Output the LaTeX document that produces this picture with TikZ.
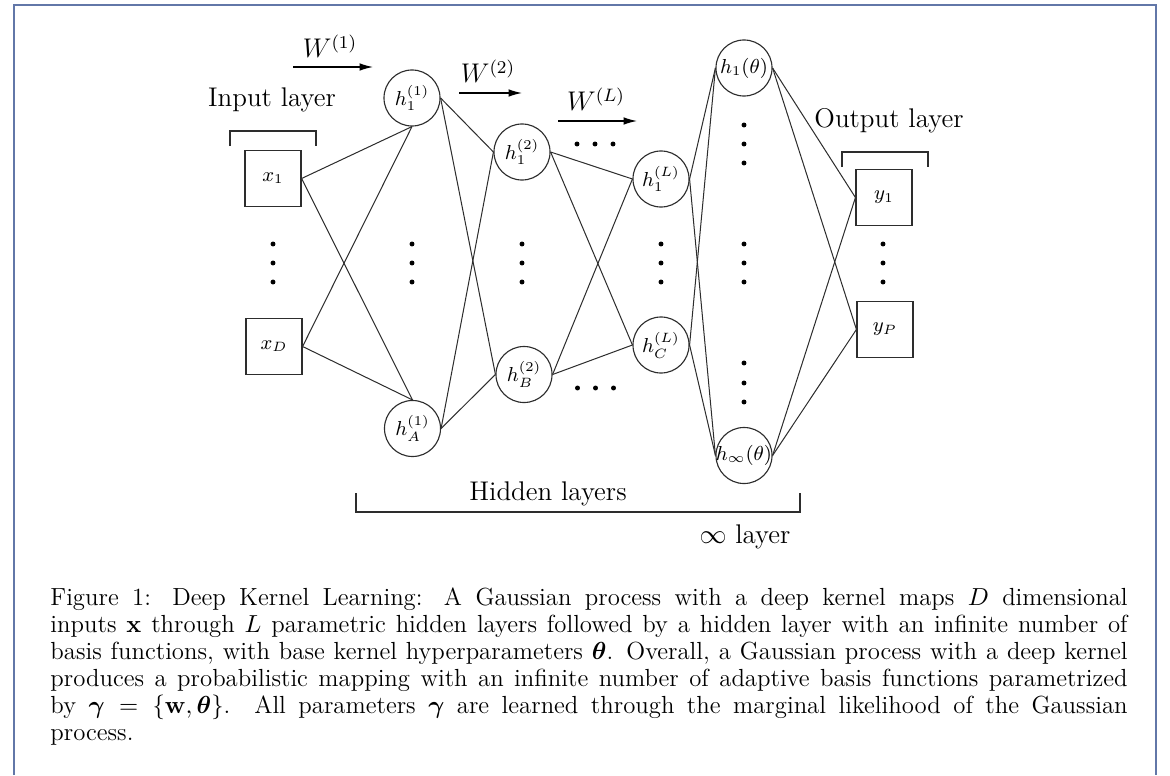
\documentclass[tikz,border=0pt]{standalone}
\usepackage{amsmath,amssymb,bm}
\usetikzlibrary{arrows.meta}
\definecolor{framecol}{RGB}{98,119,168}
\definecolor{ink}{RGB}{45,45,45}
\tikzset{
  inbox/.style={draw=ink, line width=0.5pt, minimum size=24.9pt, inner sep=0pt,
    font=\fontsize{9}{11}\selectfont},
  neuron/.style={circle, draw=ink, line width=0.5pt, minimum size=24.9pt, inner sep=0pt,
    font=\fontsize{9}{11}\selectfont},
  wire/.style={draw=ink, line width=0.45pt},
  tagtext/.style={font=\fontsize{12}{14}\selectfont, inner sep=0pt, anchor=base},
  weightarrow/.style={-{Latex[length=6pt,width=3.4pt]}, line width=0.55pt},
  bracket/.style={draw=ink, line width=0.5pt},
}
\newcommand{\ctext}[1]{\makebox[0pt][c]{$#1$}}
\begin{document}
\begin{tikzpicture}[x=0.4444pt, y=-0.4444pt]
\useasboundingbox (0,0) rectangle (1170,775);

% page frame
\draw[framecol, line width=0.9pt] (14,775) -- (14,5.3) -- (1156.3,5.3) -- (1156.3,775);

% input layer
\node[inbox] (x1) at (273,178.5) {$x_1$};
\node[inbox] (xD) at (274,346.5) {$x_D$};

% first hidden layer
\node[neuron] (h11) at (412,98) {\ctext{h_1^{(1)}}};
\node[neuron] (h1A) at (412.5,428.5) {\ctext{h_A^{(1)}}};

% second hidden layer
\node[neuron] (h21) at (522,152) {\ctext{h_1^{(2)}}};
\node[neuron] (h2B) at (524,374.5) {\ctext{h_B^{(2)}}};

% L-th hidden layer
\node[neuron] (hL1) at (661,179) {\ctext{h_1^{(L)}}};
\node[neuron] (hLC) at (661,345) {\ctext{h_C^{(L)}}};

% infinite layer
\node[neuron] (ht1) at (744,68) {\ctext{h_1(\theta)}};
\node[neuron] (hinf) at (744,455.5) {\ctext{h_\infty(\theta)}};

% output layer
\node[inbox] (y1) at (884,197.5) {$y_1$};
\node[inbox] (yP) at (885,329.5) {$y_P$};

% connections
\foreach \s in {x1,xD} {
  \draw[wire] (\s.east) -- (h11.south);
  \draw[wire] (\s.east) -- (h1A.north);
}
\foreach \s in {h11,h1A} {
  \draw[wire] (\s.east) -- (h21.west);
  \draw[wire] (\s.east) -- (h2B.west);
}
\foreach \s in {h21,h2B} {
  \draw[wire] (\s.east) -- (hL1.west);
  \draw[wire] (\s.east) -- (hLC.west);
}
\foreach \s in {hL1,hLC} {
  \draw[wire] (\s.east) -- (ht1.west);
  \draw[wire] (\s.east) -- (hinf.west);
}
\foreach \s in {ht1,hinf} {
  \draw[wire] (\s.east) -- (y1.west);
  \draw[wire] (\s.east) -- (yP.west);
}

% vertical ellipses
\foreach \cx in {273,412,522,661,744,883} {
  \foreach \cy in {244,263,282} {
    \fill (\cx,\cy) circle (1.1pt);
  }
}
\foreach \cy in {125,144,163,363,383,402} {
  \fill (744,\cy) circle (1.1pt);
}
% horizontal ellipses
\foreach \cx in {577,595,613} {
  \fill (\cx,144) circle (1.1pt);
  \fill (\cx+0.5,388) circle (1.1pt);
}

% weight arrows
\node[tagtext] (w1) at (330,58) {$W^{(1)}$};
\node[tagtext] (w2) at (488,83) {$W^{(2)}$};
\node[tagtext] (wL) at (596,111) {$W^{(L)}$};
\coordinate (a1s) at (293,67);  \coordinate (a1e) at (373,67);
\coordinate (a2s) at (459,93);  \coordinate (a2e) at (522,93);
\coordinate (aLs) at (558,121); \coordinate (aLe) at (637,121);
\draw[weightarrow] (a1s) -- (a1e);
\draw[weightarrow] (a2s) -- (a2e);
\draw[weightarrow] (aLs) -- (aLe);

% layer labels and brackets
\node[tagtext] (inlab) at (272,107) {Input layer};
\draw[bracket] (230,146) -- (230,131) -- (316,131) -- (316,146);
\node[tagtext] (outlab) at (889,128) {Output layer};
\draw[bracket] (842,167) -- (842,152) -- (928,152) -- (928,167);
\node[tagtext] (hidlab) at (548,500) {Hidden layers};
\draw[bracket] (356,493) -- (356,512) -- (800,512) -- (800,493);
\node[tagtext] (inflab) at (745,543) {$\infty$ layer};

% caption
\node[anchor=north west, text width=478.7pt, align=justify, inner sep=0pt,
      font=\fontsize{11}{12}\selectfont] (cap) at (50,587)
{Figure 1: Deep Kernel Learning: A Gaussian process with a deep kernel maps $D$ dimensional\linebreak
inputs $\mathbf{x}$ through $L$ parametric hidden layers followed by a hidden layer with an infinite number of\linebreak
basis functions, with base kernel hyperparameters $\boldsymbol{\theta}$. Overall, a Gaussian process with a deep kernel\linebreak
produces a probabilistic mapping with an infinite number of adaptive basis functions parametrized\linebreak
by $\boldsymbol{\gamma}=\{\mathbf{w},\boldsymbol{\theta}\}$. All parameters $\boldsymbol{\gamma}$ are learned through the marginal likelihood of the Gaussian\linebreak
process.};
\end{tikzpicture}
\end{document}
